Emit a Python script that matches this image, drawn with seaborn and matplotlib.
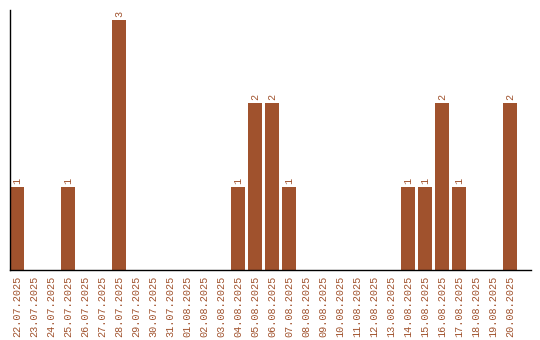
import matplotlib
matplotlib.use("Agg")
import matplotlib.pyplot as plt
import seaborn as sns
import pandas as pd

dates = ["22.07.2025", "23.07.2025", "24.07.2025", "25.07.2025", "26.07.2025",
         "27.07.2025", "28.07.2025", "29.07.2025", "30.07.2025", "31.07.2025",
         "01.08.2025", "02.08.2025", "03.08.2025", "04.08.2025", "05.08.2025",
         "06.08.2025", "07.08.2025", "08.08.2025", "09.08.2025", "10.08.2025",
         "11.08.2025", "12.08.2025", "13.08.2025", "14.08.2025", "15.08.2025",
         "16.08.2025", "17.08.2025", "18.08.2025", "19.08.2025", "20.08.2025"]
counts = [1, 0, 0, 1, 0, 0, 3, 0, 0, 0,
          0, 0, 0, 1, 2, 2, 1, 0, 0, 0,
          0, 0, 0, 1, 1, 2, 1, 0, 0, 2]

color = "#A0522D"
df = pd.DataFrame({"date": dates, "count": counts})

sns.set_style("white")
plt.rcParams["font.family"] = ["Liberation Mono", "DejaVu Sans Mono"]

fig = plt.figure(figsize=(5.4, 3.4), dpi=100)
ax_w_px = 521
ax = fig.add_axes([10 / 540, 70 / 340, ax_w_px / 540, 260 / 340])
w = 14 / 17
sns.barplot(data=df, x="date", y="count", color=color, saturation=1, width=w,
            linewidth=0, edgecolor="none", ax=ax)
for p in ax.patches:
    cx = p.get_x() + p.get_width() / 2
    p.set_x(cx - w / 2)
    p.set_width(w)

for i, c in enumerate(counts):
    if c > 0:
        ax.text(i, c + 0.035, str(c), rotation=90, ha="center", va="bottom",
                fontsize=7.3, color=color)

ax.set_xlim(-w / 2, -w / 2 + ax_w_px / 17)
ax.set_ylim(0, 3.12)
ax.set_xlabel("")
ax.set_ylabel("")
ax.set_yticks([])
ax.tick_params(axis="x", length=0, pad=4, labelrotation=90, labelsize=7.3, labelcolor=color)
for s in ["top", "right"]:
    ax.spines[s].set_visible(False)
for s in ["left", "bottom"]:
    ax.spines[s].set_color("black")
    ax.spines[s].set_linewidth(1)

fig.savefig("out.png", dpi=100)
